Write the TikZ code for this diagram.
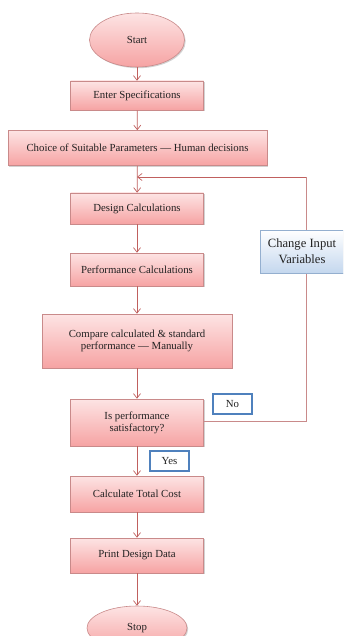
\documentclass[tikz,border=0pt]{standalone}
\usepackage{fontspec}
\setmainfont{Liberation Serif}
\usetikzlibrary{shapes.geometric,shadows,arrows.meta}
\definecolor{pktop}{HTML}{FDE4E4}
\definecolor{pkbot}{HTML}{F6A3A3}
\definecolor{pkline}{HTML}{C98A8A}
\definecolor{arr}{HTML}{C0605E}
\definecolor{bltop}{HTML}{FFFFFF}
\definecolor{blbot}{HTML}{C4D7EE}
\definecolor{blline}{HTML}{94AFCF}
\definecolor{lblue}{HTML}{4F81BD}
\definecolor{txt}{HTML}{222222}
\tikzset{
  pinkbox/.style={rectangle, draw=pkline, line width=0.6pt, top color=pktop, bottom color=pkbot,
    drop shadow={opacity=0.35, shadow xshift=1.2pt, shadow yshift=-1.2pt},
    align=center, text=txt, font=\fontsize{10.8}{12}\selectfont, inner sep=0pt},
  pinkell/.style={ellipse, draw=pkline, line width=0.6pt, top color=pktop, bottom color=pkbot,
    drop shadow={opacity=0.35, shadow xshift=1.2pt, shadow yshift=-1.2pt},
    text=txt, font=\fontsize{10.8}{12}\selectfont, inner sep=0pt},
  bluebox/.style={rectangle, draw=blline, line width=0.6pt, top color=bltop, bottom color=blbot,
    drop shadow={opacity=0.35, shadow xshift=1.2pt, shadow yshift=-1.2pt},
    align=center, text=txt, font=\fontsize{12.6}{16}\selectfont, inner sep=0pt},
  tagbox/.style={rectangle, draw=lblue, line width=1.8pt, fill=white,
    text=txt, font=\fontsize{10.8}{12}\selectfont, inner sep=0pt},
  flow/.style={draw=arr, line width=0.7pt, -{Straight Barb[length=4.5pt,width=7pt]}},
  back/.style={draw=pkline, line width=0.7pt},
}
\begin{document}
\begin{tikzpicture}[x=1pt,y=-1pt]
\useasboundingbox (0,0) rectangle (343,636);
\clip (0,0) rectangle (343,636);
\fill[white] (0,0) rectangle (343,636);
\node[pinkell, minimum width=95pt, minimum height=54pt] (start) at (137,40) {Start};
\node[pinkbox, minimum width=133pt, minimum height=29pt] (spec) at (137,95.5) {Enter Specifications};
\node[pinkbox, minimum width=259pt, minimum height=35pt] (choice) at (137.5,148) {Choice of Suitable Parameters --- Human decisions};
\node[pinkbox, minimum width=133pt, minimum height=31pt] (design) at (137,208.5) {Design Calculations};
\node[pinkbox, minimum width=133pt, minimum height=33pt] (perf) at (137,269.5) {Performance Calculations};
\node[pinkbox, minimum width=190pt, minimum height=54pt] (comp) at (137,341) {Compare calculated \& standard\\performance --- Manually};
\node[pinkbox, minimum width=133pt, minimum height=47pt] (dec) at (137,422.5) {Is performance\\satisfactory?};
\node[pinkbox, minimum width=133pt, minimum height=36pt] (cost) at (137,494) {Calculate Total Cost};
\node[pinkbox, minimum width=133pt, minimum height=35pt] (print) at (137,555.5) {Print Design Data};
\node[pinkell, minimum width=100pt, minimum height=44pt] (stop) at (137,628) {Stop};
\coordinate (cr) at (306,421);
\coordinate (ct) at (306,177);
\coordinate (cj) at (137,177);
\draw[back] (dec.east |- cr) -- (cr) -- (ct);
\draw[back, -{Straight Barb[length=4.5pt,width=7pt]}, draw=arr] (ct) -- (cj);
\node[bluebox, minimum width=84pt, minimum height=43pt] (chg) at (302,251.5) {Change Input\\Variables};
\node[tagbox, minimum width=39pt, minimum height=20pt] (no) at (232.5,404) {No};
\node[tagbox, minimum width=39pt, minimum height=20pt] (yes) at (169.5,461) {Yes};
\draw[flow] (start) -- (spec);
\draw[flow] (spec) -- (choice);
\draw[flow] (choice) -- (design);
\draw[flow] (design) -- (perf);
\draw[flow] (perf) -- (comp);
\draw[flow] (comp) -- (dec);
\draw[flow] (dec) -- (cost);
\draw[flow] (cost) -- (print);
\draw[flow] (print) -- (stop);
\end{tikzpicture}
\end{document}
